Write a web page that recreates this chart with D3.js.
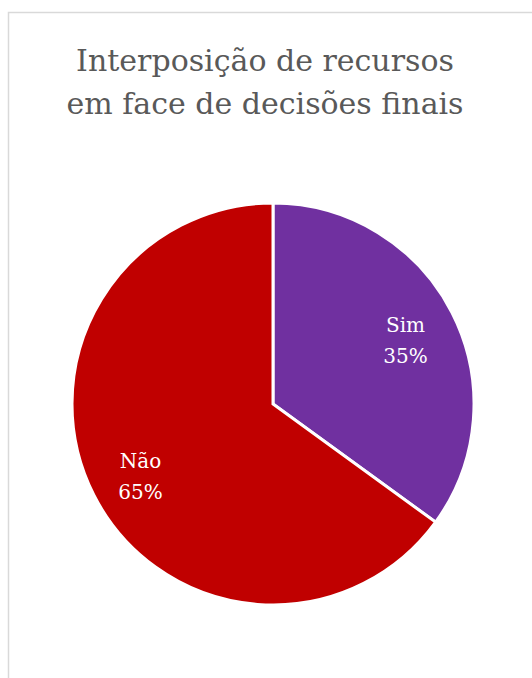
<!DOCTYPE html>
<html>
<head>
<meta charset="utf-8">
<script src="https://cdn.jsdelivr.net/npm/d3@7"></script>
<style>
  html, body { margin: 0; padding: 0; background: #fff; }
  svg { display: block; }
</style>
</head>
<body>
<svg id="chart" width="532" height="678"></svg>
<script>
// Answers: resources filed against final decisions
const categories = ["Sim", "Não"];
const values = [35, 65];
const colors = ["#7030a0", "#c00000"];
const titleLines = ["Interposição de recursos", "em face de decisões finais"];

const svg = d3.select("#chart");
const W = 532, H = 678;
const serif = "'DejaVu Serif', 'Liberation Serif', serif";

// chart area frame
svg.append("rect")
  .attr("x", 8.5).attr("y", 12.5)
  .attr("width", W + 10).attr("height", H + 10)
  .attr("fill", "#fff")
  .attr("stroke", "#d9d9d9")
  .attr("stroke-width", 1.5);

// title
svg.append("text")
  .attr("x", 265).attr("y", 71)
  .attr("text-anchor", "middle")
  .attr("font-family", serif)
  .attr("font-size", 30)
  .attr("fill", "#595959")
  .selectAll("tspan")
  .data(titleLines)
  .join("tspan")
  .attr("x", 265)
  .attr("dy", (d, i) => i === 0 ? 0 : 43)
  .text(d => d);

const cx = 273, cy = 404, R = 201;
const data = categories.map((c, i) => ({ cat: c, value: values[i], color: colors[i] }));

const pie = d3.pie().value(d => d.value).sort(null);
const arcs = pie(data);
const arc = d3.arc().innerRadius(0).outerRadius(R);
const labelArc = d3.arc().innerRadius(R * 0.74).outerRadius(R * 0.74);

const g = svg.append("g").attr("transform", `translate(${cx},${cy})`);

g.selectAll("path.slice")
  .data(arcs)
  .join("path")
  .attr("class", "slice")
  .attr("d", arc)
  .attr("fill", d => d.data.color)
  .attr("stroke", "#fff")
  .attr("stroke-width", 3)
  .attr("stroke-linejoin", "miter");

const labels = g.selectAll("text.label")
  .data(arcs)
  .join("text")
  .attr("class", "label")
  .attr("transform", d => {
    const [x, y] = labelArc.centroid(d);
    return `translate(${x},${y})`;
  })
  .attr("text-anchor", "middle")
  .attr("font-family", serif)
  .attr("font-size", 20)
  .attr("fill", "#fff");

labels.append("tspan").attr("x", 0).attr("dy", "-0.2em").text(d => d.data.cat);
labels.append("tspan").attr("x", 0).attr("dy", "1.55em")
  .text(d => Math.round(d.data.value / d3.sum(values) * 100) + "%");
</script>
</body>
</html>
